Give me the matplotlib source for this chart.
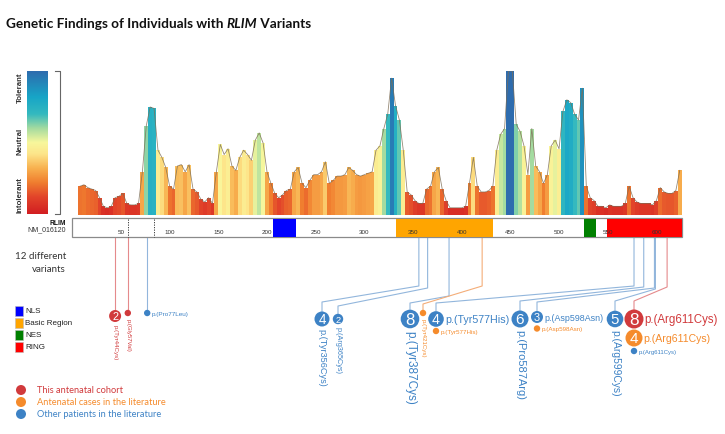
import matplotlib
matplotlib.use("Agg")
import matplotlib.pyplot as plt
import numpy as np
from matplotlib.colors import LinearSegmentedColormap
from matplotlib.patches import Rectangle, Circle

W, H = 725, 435

# tolerance profile (0 = intolerant, 1 = tolerant), one value every 4 residues
profile_pos = list(range(8, 625, 4))
profile_val = [
    0.20, 0.21, 0.19, 0.18, 0.17, 0.12, 0.06, 0.05, 0.06, 0.12,   # 8-44
    0.13, 0.15, 0.08, 0.07, 0.07, 0.08, 0.30, 0.62, 0.75, 0.74,   # 48-84
    0.45, 0.40, 0.33, 0.20, 0.18, 0.34, 0.35, 0.30, 0.35, 0.18,   # 88-124
    0.16, 0.11, 0.09, 0.12, 0.08, 0.30, 0.49, 0.42, 0.46, 0.34,   # 128-164
    0.31, 0.40, 0.45, 0.42, 0.38, 0.52, 0.57, 0.50, 0.30, 0.22,   # 168-204
    0.15, 0.12, 0.14, 0.17, 0.18, 0.30, 0.33, 0.22, 0.19, 0.24,   # 208-244
    0.28, 0.28, 0.30, 0.37, 0.22, 0.24, 0.27, 0.27, 0.28, 0.33,   # 248-284
    0.31, 0.28, 0.27, 0.28, 0.29, 0.30, 0.45, 0.48, 0.60, 0.70,   # 288-324
    0.95, 0.76, 0.66, 0.45, 0.16, 0.14, 0.10, 0.08, 0.08, 0.18,   # 328-364
    0.20, 0.30, 0.33, 0.18, 0.10, 0.05, 0.05, 0.05, 0.05, 0.06,   # 368-404
    0.22, 0.40, 0.20, 0.16, 0.16, 0.17, 0.20, 0.45, 0.56, 0.60,   # 408-444
    1.00, 1.00, 0.63, 0.58, 0.48, 0.28, 0.60, 0.34, 0.30, 0.22,   # 448-484
    0.28, 0.48, 0.52, 0.46, 0.72, 0.80, 0.78, 0.70, 0.66, 0.88,   # 488-524
    0.20, 0.12, 0.10, 0.06, 0.06, 0.05, 0.07, 0.06, 0.06, 0.06,   # 528-564
    0.08, 0.20, 0.12, 0.09, 0.08, 0.08, 0.08, 0.07, 0.10, 0.19,   # 568-604
    0.16, 0.15, 0.15, 0.17, 0.31,                                 # 608-624
]

protein_len = 626
axis_ticks = [50, 100, 150, 200, 250, 300, 350, 400, 450, 500, 550, 600]
dashed_marks = [57, 84]

domain_names = ["NLS", "Basic Region", "NES", "RING"]
domain_start = [206, 333, 526, 549]
domain_end = [230, 432, 538, 626]
domain_colors = ["#0000ff", "#ffa500", "#008000", "#ff0000"]

# variants: name, residue, number of individuals, source group
variant_names = ["p.(Tyr44Cys)", "p.(Gly57Val)", "p.(Pro77Leu)", "p.(Tyr356Cys)",
                 "p.(Arg365Cys)", "p.(Tyr387Cys)", "p.(Tyr421Cys)", "p.(Tyr577His)",
                 "p.(Tyr577His)", "p.(Pro587Arg)", "p.(Asp598Asn)", "p.(Asp598Asn)",
                 "p.(Arg599Cys)", "p.(Arg611Cys)", "p.(Arg611Cys)", "p.(Arg611Cys)"]
variant_pos = [44, 57, 77, 356, 365, 387, 421, 577, 577, 587, 598, 598, 599, 611, 611, 611]
variant_count = [2, 1, 1, 4, 2, 8, 1, 4, 1, 6, 3, 1, 5, 8, 4, 1]
variant_group = [0, 0, 2, 2, 2, 2, 1, 2, 1, 2, 2, 1, 2, 0, 1, 2]

group_labels = ["This antenatal cohort", "Antenatal cases in the literature",
                "Other patients in the literature"]
group_colors = ["#d13a3c", "#f58b2c", "#3d82c5"]
line_colors = ["#e58a8c", "#f4ad78", "#92b6dc"]

# layout of the bubbles: x, y, radius, label side, label size, connector elbow (y1, y2) or None
bubble_x = [115.1, 127.8, 147.2, 322, 338, 410, 423, 436, 436, 520, 537, 537, 615, 634, 634, 634]
bubble_y = [317, 314, 314, 320, 320, 320, 314, 320, 332, 320, 318, 329.5, 320, 320, 339, 352]
bubble_r = [6, 3.2, 3.2, 7.5, 5.2, 9.3, 3.2, 7.8, 3.2, 8.5, 6, 3.2, 8.3, 9.5, 8.5, 3.2]
label_side = ["down", "down", "right", "down", "down", "down", "down", "right",
              "right", "down", "right", "right", "down", "right", "right", "right"]
label_size = [4.4, 4.3, 4.6, 6.6, 5.2, 8.5, 4.4, 7.7, 4.5, 8.0, 6.4, 4.5, 7.4, 8.3, 7.6, 4.3]
elbow = [(311, 311), (311, 311), (311, 311), (287, 303), (289, 307), (297, 304),
         (287, 305), (287, 304), None, (288, 302), (289, 303), None, (290, 302),
         (288, 302), None, None]

X0, PX_PER_AA = 72.3, 0.9735


def aa_x(aa):
    return X0 + aa * PX_PER_AA


cmap = LinearSegmentedColormap.from_list("tol", [
    (0.0, "#d21e22"), (0.12, "#e2452a"), (0.22, "#f07e2f"), (0.32, "#f8b14f"),
    (0.42, "#fde58a"), (0.5, "#f8f79c"), (0.6, "#a4dba0"), (0.7, "#34b9bf"),
    (0.82, "#17a5c7"), (1.0, "#2e6cae")])

fig = plt.figure(figsize=(W / 100, H / 100), dpi=100)
fig.patch.set_facecolor("white")

# tolerance landscape
pax = fig.add_axes([aa_x(0) / W, (H - 216) / H, (aa_x(protein_len) - aa_x(0)) / W, 144 / H])
pax.bar(profile_pos, profile_val, width=4.05, color=cmap(np.array(profile_val)), linewidth=0)
pax.plot(profile_pos, profile_val, color="#7d6d55", lw=0.6, alpha=0.8)
pax.set_xlim(0, protein_len)
pax.set_ylim(0, 1)
pax.axis("off")

# colour scale
cax = fig.add_axes([27 / W, (H - 215) / H, 21 / W, 143 / H])
cax.imshow(np.linspace(1, 0, 256).reshape(-1, 1), cmap=cmap, aspect="auto", vmin=0, vmax=1)
cax.axis("off")

ax = fig.add_axes([0, 0, 1, 1])
ax.set_xlim(0, W)
ax.set_ylim(H, 0)
ax.axis("off")

ax.plot([55, 60, 60, 55], [72, 72, 215, 215], color="#666666", lw=0.8)
for lab, yy in zip(["Tolerant", "Neutral", "Intolerant"], [88, 141, 195]):
    ax.text(20.5, yy, lab, rotation=90, ha="center", va="center", fontsize=5.7,
            fontweight="bold", color="#333333", family="Liberation Sans")

# title
title_parts = [("Genetic Findings of Individuals with ", "normal"), ("RLIM", "italic"),
               (" Variants", "normal")]
renderer = fig.canvas.get_renderer()
tx = 6
for txt, style in title_parts:
    t = ax.text(tx, 28, txt, fontsize=9.8, fontweight="bold", style=style,
                family="Lato", va="baseline", ha="left", color="#111111")
    bb = t.get_window_extent(renderer=renderer)
    tx = ax.transData.inverted().transform((bb.x1, 0))[0]

# protein bar
ax.add_patch(Rectangle((aa_x(0), 219), aa_x(protein_len) - aa_x(0), 19,
                       facecolor="white", edgecolor="#8a8a8a", lw=0.9, zorder=2))
for s, e, c in zip(domain_start, domain_end, domain_colors):
    ax.add_patch(Rectangle((aa_x(s), 219.5), aa_x(e) - aa_x(s), 18, facecolor=c,
                           edgecolor="none", zorder=3))
for m in dashed_marks:
    ax.plot([aa_x(m), aa_x(m)], [219.5, 237.5], color="#222222", lw=0.6,
            ls=(0, (1.5, 1.5)), zorder=4)
for tk in axis_ticks:
    ax.text(aa_x(tk), 233, str(tk), fontsize=4.5, ha="center", va="center",
            color="#333333", family="Liberation Sans", zorder=5)
ax.text(66, 223.5, "RLIM", fontsize=4.8, fontweight="bold", ha="right", va="center",
        family=["Liberation Sans Narrow", "Liberation Sans"], color="#111111")
ax.text(66, 229.8, "NM_016120", fontsize=5.0, ha="right", va="center",
        family="Liberation Sans", color="#333333")

ax.text(66, 257, "12 different", fontsize=7.0, ha="right", va="center", family="Lato",
        color="#333333")
ax.text(66, 270, "variants", fontsize=7.0, ha="right", va="center", family="Lato",
        color="#333333")

# connectors
for i in range(len(variant_names)):
    if elbow[i] is None:
        continue
    ax0 = aa_x(variant_pos[i])
    y1, y2 = elbow[i]
    top = bubble_y[i] - bubble_r[i]
    ax.plot([ax0, ax0, bubble_x[i], bubble_x[i]], [239, y1, y2, top],
            color=line_colors[variant_group[i]], lw=0.8, zorder=1)

# bubbles and labels
for i in range(len(variant_names)):
    cx, cy, r = bubble_x[i], bubble_y[i], bubble_r[i]
    col = group_colors[variant_group[i]]
    ax.add_patch(Circle((cx, cy), r, facecolor=col, edgecolor="none", zorder=6))
    if variant_count[i] > 1:
        ax.text(cx, cy + 0.3, str(variant_count[i]), fontsize=1.3 * r, color="white",
                ha="center", va="center", family="Liberation Sans", zorder=7)
    if label_side[i] == "right":
        ax.text(cx + r + 1, cy + 0.3, variant_names[i], fontsize=label_size[i], color=col,
                ha="left", va="center", family="Liberation Sans", zorder=7)
    else:
        ax.text(cx, cy + r + 2, variant_names[i], fontsize=label_size[i], color=col,
                rotation=270, ha="center", va="top", family="Liberation Sans", zorder=7)

# domain legend
for k, (nm, c) in enumerate(zip(domain_names, domain_colors)):
    yy = 312 + 12 * k
    ax.add_patch(Rectangle((15, yy - 5), 8, 10, facecolor=c, edgecolor="#bbbbbb", lw=0.4))
    ax.text(25.5, yy, nm, fontsize=5.8, ha="left", va="center", family="Liberation Sans",
            color="#222222")

# source legend
for k, (nm, c) in enumerate(zip(group_labels, group_colors)):
    yy = 391 + 12 * k
    ax.add_patch(Circle((21, yy), 5, facecolor=c, edgecolor="none"))
    ax.text(37, yy, nm, fontsize=6.7, ha="left", va="center", family="Lato", color=c)

fig.savefig("out.png", dpi=100, facecolor="white")
